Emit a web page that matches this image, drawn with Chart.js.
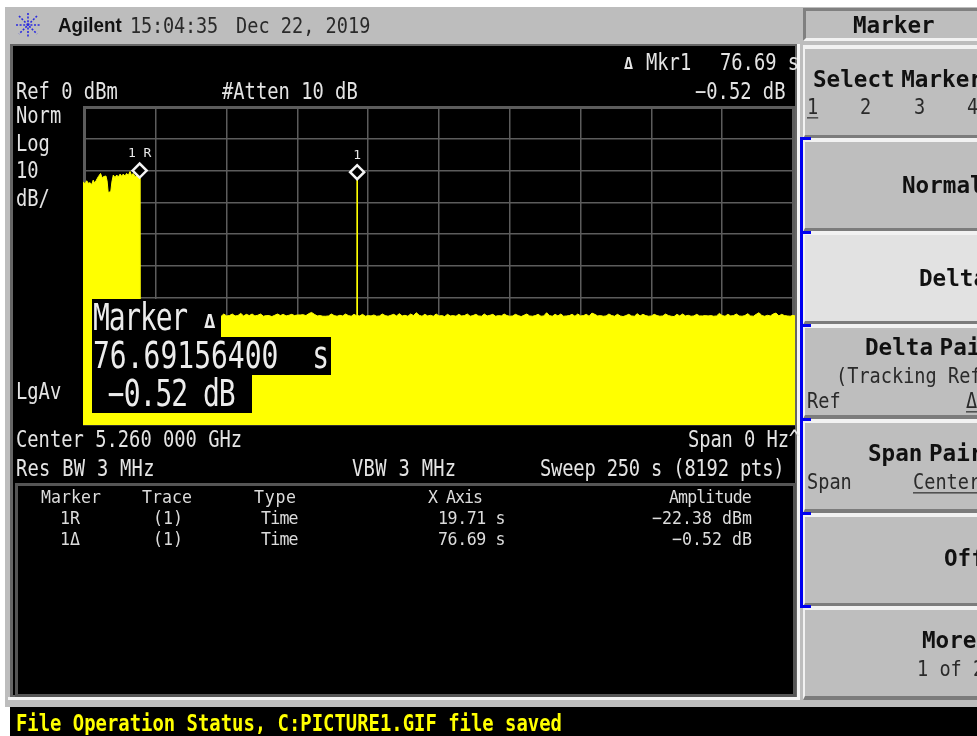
<!DOCTYPE html>
<html>
<head>
<meta charset="utf-8">
<title>Agilent Marker</title>
<script src="https://cdn.jsdelivr.net/npm/chart.js@4"></script>
<style>
html, body { margin: 0; padding: 0; background: #fff; }
#page { position: relative; width: 977px; height: 736px; overflow: hidden; background: #fff; font-family: "DejaVu Sans Mono", monospace; }
#page div { position: absolute; }
.t { position: absolute; white-space: pre; color: #e4e4e4; font-size: 18.8px; line-height: 1; transform: translateY(calc(-50% + 1px)) scaleY(1.18); }
.d { color: #2a2a2a; font-size: 18.6px; }
.s { color: #dcdcdc; font-size: 16.6px; transform: translateY(-50%) scaleY(1.08); }
.b { color: #ececec; font-size: 28px; transform: translateY(-50%) scaleY(1.3); }
.k { color: #111; font-weight: bold; font-size: 22.6px; word-spacing: -7px; transform: translateY(-50%) scaleY(1.05); }
.n { color: #2a2a2a; font-size: 18.6px; }
.key { left: 803px; width: 174px; background: #bebebe; border-top: 4px solid #f2f2f2; border-bottom: 4px solid #7c7c7c; border-left: 2px solid #f2f2f2; box-sizing: border-box; }
.blue { background: #0000f0; }
u { text-underline-offset: 3px; }
canvas { position: absolute; left: 0; top: 0; }
</style>
</head>
<body>
<div id="page">
  <!-- bezel -->
  <div style="left:5px;top:7px;width:972px;height:700px;background:#bdbdbd"></div>
  <div style="left:797px;top:44px;width:3px;height:656px;background:#f4f4f4"></div>
  <div style="left:8px;top:697px;width:792px;height:3px;background:#f4f4f4"></div>
  <div style="left:10px;top:44px;width:787px;height:653px;background:#666"></div>
  <div style="left:13px;top:46px;width:782px;height:649px;background:#000"></div>
  <div style="left:15px;top:483px;width:775px;height:208px;border:3px solid #555;background:#000"></div>
  <div style="left:10px;top:707px;width:967px;height:29px;background:#000"></div>

  <svg style="position:absolute;left:15px;top:12px" width="26" height="26" viewBox="0 0 26 26" stroke="#2a2ae0" stroke-width="1.6" stroke-dasharray="2 1.6">
    <line x1="13" y1="1" x2="13" y2="25"/><line x1="1" y1="13" x2="25" y2="13"/>
    <line x1="4" y1="4" x2="22" y2="22"/><line x1="22" y1="4" x2="4" y2="22"/>
  </svg>

  <!-- soft keys -->
  <div style="left:803px;top:8px;width:174px;height:33px;background:#bebebe;border-top:3px solid #808080;border-left:3px solid #808080;border-bottom:3px solid #f2f2f2;box-sizing:border-box"></div>
  <div class="key" style="top:45px;height:94px"></div>
  <div class="key" style="top:138px;height:94px"></div>
  <div class="key" style="top:231px;height:94px;background:#e2e2e2"></div>
  <div class="key" style="top:324px;height:95px"></div>
  <div class="key" style="top:419px;height:94px"></div>
  <div class="key" style="top:513px;height:94px"></div>
  <div class="key" style="top:606px;height:94px"></div>
  <div class="blue" style="left:800px;top:138px;width:3px;height:470px"></div>
  <div class="blue" style="left:800px;top:137px;width:11px;height:3px"></div>
  <div class="blue" style="left:800px;top:231px;width:11px;height:3px"></div>
  <div class="blue" style="left:800px;top:324px;width:11px;height:3px"></div>
  <div class="blue" style="left:800px;top:418px;width:11px;height:3px"></div>
  <div class="blue" style="left:800px;top:512px;width:11px;height:3px"></div>
  <div class="blue" style="left:800px;top:605px;width:11px;height:3px"></div>

  <canvas id="trace" width="977" height="736"></canvas>

  <!-- delta readout box over the trace -->
  <div style="left:92px;top:299px;width:129px;height:38px;background:#000"></div>
  <div style="left:92px;top:337px;width:239px;height:38px;background:#000"></div>
  <div style="left:92px;top:375px;width:160px;height:38px;background:#000"></div>
  <span class="t b" style="left:93px;top:318px;letter-spacing:-1.2px">Marker</span>
  <span class="t b" style="left:204px;top:321px;font-size:19px;font-weight:bold;transform:translateY(-50%) scaleY(1.05)">Δ</span>
  <span class="t b" style="left:93px;top:356px">76.69156400  s</span>
  <span class="t b" style="left:92px;top:394px;letter-spacing:-1px"> −0.52 dB</span>

  <!-- header -->
  <span class="t" style="left:58px;top:26px;font-family:'Liberation Sans';font-weight:bold;font-size:18.8px;color:#111;transform:translateY(-50%) scaleY(1.05)">Agilent</span>
  <span class="t d" style="left:130px;top:25px;letter-spacing:-0.2px">15:04:35</span>
  <span class="t d" style="left:236px;top:25px">Dec 22, 2019</span>

  <!-- screen annotations -->
  <span class="t" style="left:624px;top:64px;font-weight:bold;font-size:15px;transform:translateY(-50%)">Δ</span>
  <span class="t" style="left:646px;top:62px">Mkr1</span>
  <span class="t" style="left:720px;top:62px">76.69 s</span>
  <span class="t" style="left:16px;top:91px">Ref 0 dBm</span>
  <span class="t" style="left:222px;top:91px">#Atten 10 dB</span>
  <span class="t" style="left:695px;top:91px">−0.52 dB</span>
  <span class="t" style="left:16px;top:115px">Norm</span>
  <span class="t" style="left:16px;top:143px">Log</span>
  <span class="t" style="left:16px;top:170px">10</span>
  <span class="t" style="left:16px;top:198px">dB/</span>
  <span class="t" style="left:16px;top:391px">LgAv</span>
  <span class="t" style="left:16px;top:439px">Center 5.260 000 GHz</span>
  <span class="t" style="left:688px;top:439px;letter-spacing:-0.1px">Span 0 Hz^</span>
  <span class="t" style="left:16px;top:468px;letter-spacing:0.25px">Res BW 3 MHz</span>
  <span class="t" style="left:352px;top:468px;letter-spacing:0.3px">VBW 3 MHz</span>
  <span class="t" style="left:540px;top:468px;letter-spacing:-0.2px">Sweep 250 s (8192 pts)</span>

  <!-- marker table -->
  <span class="t s" style="left:41px;top:498px">Marker</span>
  <span class="t s" style="left:142px;top:498px">Trace</span>
  <span class="t s" style="left:254px;top:498px;letter-spacing:0.7px">Type</span>
  <span class="t s" style="left:428px;top:498px;letter-spacing:-1px">X Axis</span>
  <span class="t s" style="left:669px;top:498px;letter-spacing:-0.9px">Amplitude</span>
  <span class="t s" style="left:60px;top:519px">1R</span>
  <span class="t s" style="left:153px;top:519px">(1)</span>
  <span class="t s" style="left:261px;top:519px;letter-spacing:-0.8px">Time</span>
  <span class="t s" style="left:438px;top:519px;letter-spacing:-0.4px">19.71 s</span>
  <span class="t s" style="left:652px;top:519px">−22.38 dBm</span>
  <span class="t s" style="left:60px;top:540px">1Δ</span>
  <span class="t s" style="left:153px;top:540px">(1)</span>
  <span class="t s" style="left:261px;top:540px;letter-spacing:-0.8px">Time</span>
  <span class="t s" style="left:438px;top:540px;letter-spacing:-0.4px">76.69 s</span>
  <span class="t s" style="left:672px;top:540px">−0.52 dB</span>

  <!-- status line -->
  <span class="t" style="left:16px;top:722px;color:#ffff00;font-weight:bold;font-size:18.9px">File Operation Status, C:PICTURE1.GIF file saved</span>

  <!-- soft key labels -->
  <span class="t k" style="left:853px;top:25px">Marker</span>
  <span class="t k" style="left:813px;top:79px">Select Marker</span>
  <span class="t n" style="left:807px;top:106px"><u>1</u></span>
  <span class="t n" style="left:860px;top:106px">2</span>
  <span class="t n" style="left:914px;top:106px">3</span>
  <span class="t n" style="left:967px;top:106px">4</span>
  <span class="t k" style="left:902px;top:185px">Normal</span>
  <span class="t k" style="left:919px;top:278px">Delta</span>
  <span class="t k" style="left:865px;top:347px">Delta Pair</span>
  <span class="t n" style="left:836px;top:375px">(Tracking Ref)</span>
  <span class="t n" style="left:807px;top:400px">Ref</span>
  <span class="t n" style="left:966px;top:400px"><u>Δ</u></span>
  <span class="t k" style="left:868px;top:453px">Span Pair</span>
  <span class="t n" style="left:807px;top:481px">Span</span>
  <span class="t n" style="left:913px;top:481px"><u>Center</u></span>
  <span class="t k" style="left:944px;top:558px">Off</span>
  <span class="t k" style="left:922px;top:640px">More</span>
  <span class="t n" style="left:917px;top:668px">1 of 2</span>
</div>

<script>
// grid divisions, 25 s and 10 dB
const timeDivisions = [0, 25, 50, 75, 100, 125, 150, 175, 200, 225, 250];

// burst before the reference marker
const burstTimes = [-0.7, 0, 0.6, 1.2, 1.8, 2.4, 2.9, 3.4, 3.9, 4.7, 5.5, 6.1, 6.5, 7.4, 7.8, 8.2, 9.1, 9.5, 10, 10.6, 11.2, 11.8, 12.4, 13, 13.5, 14.1, 14.7, 15.3, 15.9, 16.5, 17, 17.7, 18.3, 18.8, 19.3];
const burstLevels = [-23.5, -24.2, -23.2, -24, -23.8, -24.4, -23, -23.9, -23.2, -21.9, -20.9, -22.4, -21.9, -21.7, -23.2, -26.9, -26.6, -23.6, -21.4, -22.2, -21.4, -22, -21.1, -21.8, -21.1, -21.7, -20.9, -21.5, -20.3, -21.6, -20.9, -21.9, -21.4, -22, -21.4];

// noise floor after it, with the single spike at the delta marker
const floorTimes = [19.4,
    20, 21, 22, 23, 24, 25, 26, 27, 28, 29,
    30, 31, 32, 33, 34, 35, 36, 37, 38, 39,
    40, 41, 42, 43, 44, 45, 46, 47, 48, 49,
    50, 51, 52, 53, 54, 55, 56, 57, 58, 59,
    60, 61, 62, 63, 64, 65, 66, 67, 68, 69,
    70, 71, 72, 73, 74, 75, 76, 77, 78, 79,
    80, 81, 82, 83, 84, 85, 86, 87, 88, 89,
    90, 91, 92, 93, 94, 95, 96, 96.1, 96.2, 97, 98, 99,
    100, 101, 102, 103, 104, 105, 106, 107, 108, 109,
    110, 111, 112, 113, 114, 115, 116, 117, 118, 119,
    120, 121, 122, 123, 124, 125, 126, 127, 128, 129,
    130, 131, 132, 133, 134, 135, 136, 137, 138, 139,
    140, 141, 142, 143, 144, 145, 146, 147, 148, 149,
    150, 151, 152, 153, 154, 155, 156, 157, 158, 159,
    160, 161, 162, 163, 164, 165, 166, 167, 168, 169,
    170, 171, 172, 173, 174, 175, 176, 177, 178, 179,
    180, 181, 182, 183, 184, 185, 186, 187, 188, 189,
    190, 191, 192, 193, 194, 195, 196, 197, 198, 199,
    200, 201, 202, 203, 204, 205, 206, 207, 208, 209,
    210, 211, 212, 213, 214, 215, 216, 217, 218, 219,
    220, 221, 222, 223, 224, 225, 226, 227, 228, 229,
    230, 231, 232, 233, 234, 235, 236, 237, 238, 239,
    240, 241, 242, 243, 244, 245, 246, 247, 248, 249, 250, 250.7];
const floorLevels = [-65.7,
    -65.7, -65.6, -65.8, -65.7, -65.6, -65.8, -65.7, -65.6, -65.7, -65.8,
    -65.7, -65.6, -65.7, -65.8, -65.7, -65.6, -65.7, -65.8, -65.6, -65.7,
    -65.8, -65.7, -65.6, -65.7, -65.8, -65.7, -65.6, -65.8, -65.9, -65.1,
    -65.7, -65.6, -65.1, -65.7, -65.6, -64.9, -65.7, -65.2, -65.6, -65.1,
    -65.7, -65.5, -65.1, -65.8, -65.6, -65.6, -65.9, -65.5, -65.1, -65.6,
    -65.2, -65.7, -65.5, -65.2, -65.6, -65.4, -65.4, -65.3, -65.6, -65,
    -64.6, -65.2, -65.7, -65.6, -65.8, -65.8, -65.7, -65.1, -65.6, -65.8,
    -65.5, -65.7, -65.1, -65.6, -65.8, -65.2, -65.7, -20.6, -65.6, -65.7, -65.2, -65.8,
    -65.6, -65.7, -65.4, -65.8, -65.7, -65.1, -65.6, -65.8, -65.5, -65.2,
    -65.7, -65, -65.7, -65.5, -65.8, -65.1, -65.6, -64.7, -65.5, -65.8,
    -65.2, -65.7, -65.5, -65.8, -65.1, -65.7, -65.6, -65.9, -65.2, -65.7,
    -65.6, -65.8, -65.2, -65.7, -65.6, -65.1, -65.8, -65.6, -65.2, -65.7,
    -65.8, -65.1, -65.7, -65.5, -65.2, -65.8, -65.6, -65.7, -65.1, -65.6,
    -65.8, -65.7, -65.2, -65.6, -65.9, -65.5, -65.1, -65.7, -65.8, -65.6,
    -65.2, -65.8, -65.7, -64.7, -65.6, -65.8, -65.2, -65.7, -65.1, -65.8,
    -65.7, -65.6, -65.2, -65.8, -65.1, -65.7, -65.6, -65.2, -65.8, -64.8,
    -65.2, -65.7, -65.6, -65.8, -65.7, -65.1, -65.6, -65.8, -65.2, -65.7,
    -65.9, -65.6, -65.2, -65.7, -65.8, -65, -65.7, -65.2, -65.6, -65.8,
    -65.7, -65.2, -65.6, -65.8, -65.7, -65.1, -65.6, -65.8, -65.9, -65.2,
    -65.7, -65.1, -65.7, -65.5, -65.8, -65.7, -65.2, -65.7, -65.7, -65.6,
    -65.7, -65.6, -65.8, -65.7, -64.9, -65.6, -65.8, -65.2, -65.7, -65.6,
    -65.1, -65.7, -65.8, -65.6, -65, -65.7, -65.8, -65.2, -64.7, -65.6,
    -65.8, -65.5, -65.7, -65.1, -64.8, -65.7, -65.2, -65.6, -65.7, -65.8, -65.5, -65.7];

// diamonds as they sit on the screen
const markerTimes = [19.3, 96.1];
const markerLevels = [-20, -20.5];
const markerNames = ["1 R", "1"];

function points(xs, ys) {
    return xs.map((x, i) => ({ x: x, y: ys[i] }));
}

// small text above each diamond
const markerLabels = {
    id: "markerLabels",
    afterDatasetsDraw(chart) {
        const c = chart.ctx;
        c.save();
        c.fillStyle = "#e8e8e8";
        c.font = "13px 'DejaVu Sans Mono'";
        c.textAlign = "center";
        c.textBaseline = "middle";
        markerNames.forEach((name, i) => {
            const px = chart.scales.x.getPixelForValue(markerTimes[i]);
            const py = chart.scales.y.getPixelForValue(markerLevels[i]);
            c.fillText(name, px, py - 17);
        });
        c.restore();
    }
};

const ctx = document.getElementById("trace").getContext("2d");
let traceChart = new Chart(ctx, {
    type: "line",
    data: {
        datasets: [
            {
                label: "Markers",
                data: points(markerTimes, markerLevels),
                showLine: false,
                pointStyle: "rectRot",
                pointRadius: 7,
                pointBorderWidth: 2.5,
                pointBackgroundColor: "#000",
                pointBorderColor: "#f4f4f4",
                clip: false
            },
            {
                label: "Trace 1",
                data: points(burstTimes.concat(floorTimes), burstLevels.concat(floorLevels)),
                borderColor: "#ffff00",
                backgroundColor: "#ffff00",
                borderWidth: 1,
                pointRadius: 0,
                fill: "start",
                tension: 0
            }
        ]
    },
    options: {
        responsive: false,
        animation: false,
        layout: { padding: { left: 83, right: 182, top: 107, bottom: 311 } },
        plugins: { legend: { display: false }, tooltip: { enabled: false } },
        scales: {
            x: {
                type: "linear",
                min: -0.7,
                max: 250.7,
                afterBuildTicks: (scale) => { scale.ticks = timeDivisions.map((v) => ({ value: v })); },
                border: { display: false },
                grid: {
                    color: "#5c5c5c",
                    drawTicks: false,
                    lineWidth: (c) => (c.tick.value === 0 || c.tick.value === 250) ? 3 : 1.5
                },
                ticks: { display: false }
            },
            y: {
                min: -100,
                max: 0,
                border: { display: false },
                grid: {
                    color: "#5c5c5c",
                    drawTicks: false,
                    lineWidth: (c) => (c.tick.value === 0) ? 3 : 1.5
                },
                ticks: { display: false, stepSize: 10 }
            }
        }
    },
    plugins: [markerLabels]
});
</script>
</body>
</html>
